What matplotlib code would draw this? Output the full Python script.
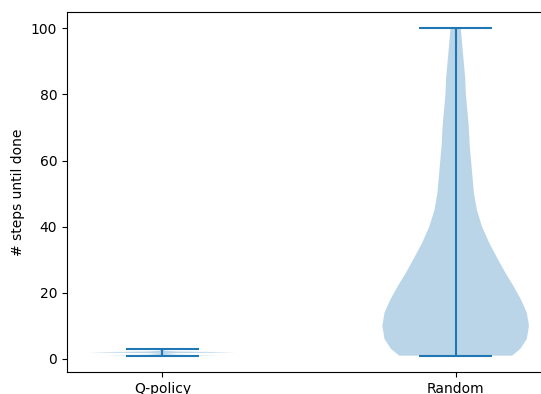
import matplotlib
matplotlib.use("Agg")
import matplotlib.pyplot as plt

# Violin outlines: step values and relative density
labels = ["Q-policy", "Random"]

q_coords = [1.0, 1.1, 1.25, 1.5, 1.75, 1.9, 2.0, 2.1, 2.25, 2.5, 2.75, 2.9, 3.0]
q_vals = [0.8, 0.6, 0.2, 0.02, 0.2, 0.7, 1.0, 0.7, 0.2, 0.02, 0.05, 0.08, 0.1]
q_min, q_max, q_mean, q_median = 1, 3, 1.6, 2

r_coords = [1, 3, 6, 10, 14, 18, 22, 26, 30, 35, 40, 45, 50, 55, 60,
            65, 70, 75, 80, 85, 90, 95, 100]
r_vals = [0.77, 0.88, 0.97, 1.0, 0.97, 0.89, 0.79, 0.68, 0.58, 0.46, 0.36,
          0.29, 0.25, 0.23, 0.21, 0.19, 0.18, 0.16, 0.14, 0.13, 0.11, 0.09, 0.07]
r_min, r_max, r_mean, r_median = 1, 100, 22, 14

vpstats = [
    {"coords": q_coords, "vals": q_vals, "min": q_min, "max": q_max,
     "mean": q_mean, "median": q_median},
    {"coords": r_coords, "vals": r_vals, "min": r_min, "max": r_max,
     "mean": r_mean, "median": r_median},
]

fig = plt.figure(figsize=(5.41, 3.94), dpi=100)
ax = fig.add_axes([67 / 541, 22 / 394, 484 / 541, 360 / 394])
ax.violin(vpstats, positions=[1, 2], widths=0.5)
ax.set_xticks([1, 2])
ax.set_xticklabels(labels)
ax.set_ylabel("# steps until done")

fig.savefig("out.png", dpi=100)
